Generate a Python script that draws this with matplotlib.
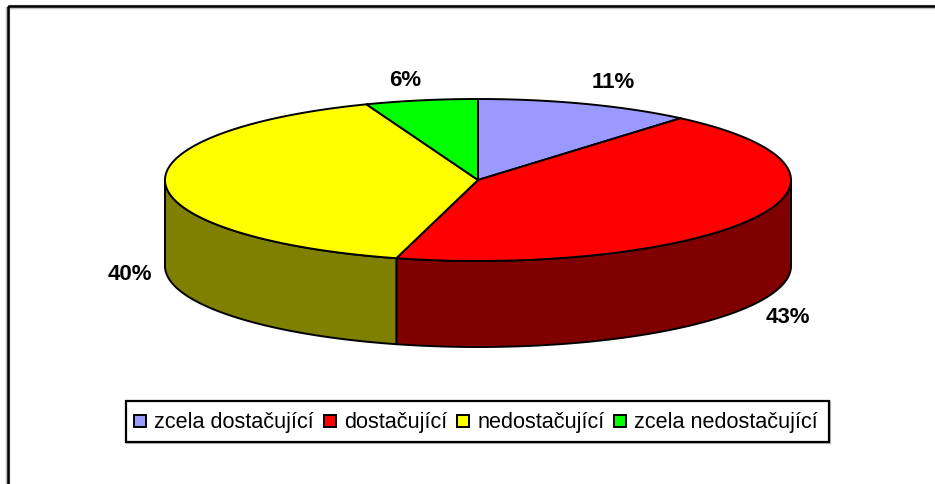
import numpy as np
import matplotlib
matplotlib.use("Agg")
import matplotlib.pyplot as plt
from matplotlib.patches import Polygon, Rectangle

categories = ["zcela dostačující", "dostačující", "nedostačující", "zcela nedostačující"]
values = [11.2, 43.0, 40.0, 5.8]
labels = ["11%", "43%", "40%", "6%"]
top_colors = ["#9999FF", "#FF0000", "#FFFF00", "#00FF00"]
side_colors = ["#4C4C80", "#800000", "#808000", "#008000"]

W, H = 935, 485
CX, CY, RX, RY, DEPTH = 478, 181, 313, 81, 86

plt.rcParams["font.family"] = ["Liberation Sans", "DejaVu Sans"]
fig = plt.figure(figsize=(W / 100, H / 100), dpi=100)
ax = fig.add_axes([0, 0, 1, 1])
ax.set_xlim(0, W)
ax.set_ylim(H, 0)
ax.axis("off")

# chart frame: only the top and left edges fall inside the picture
ax.add_patch(Rectangle((7.5, 7.5), 1000, 1000, fill=False, ec="#C0C0C0", lw=3.2, zorder=1))
ax.add_patch(Rectangle((8, 7), 1000, 1000, fill=False, ec="black", lw=1.8, zorder=1))


def rim(a0, a1, n=200):
    t = np.radians(np.linspace(a0, a1, n))
    return np.column_stack([CX + RX * np.sin(t), CY - RY * np.cos(t)])


fr = np.array(values, float) / sum(values)
edges = np.concatenate([[0], np.cumsum(fr) * 360])

# side walls: only the front half of the rim (90..270 degrees clockwise from top)
for i in range(len(values)):
    a0, a1 = max(edges[i], 90), min(edges[i + 1], 270)
    if a1 > a0:
        r = rim(a0, a1)
        low = r[::-1] + [0, DEPTH]
        ax.add_patch(Polygon(np.vstack([r, low]), closed=True, fc=side_colors[i],
                             ec="black", lw=1.4, joinstyle="round", zorder=2))

# top faces
for i in range(len(values)):
    r = rim(edges[i], edges[i + 1])
    ax.add_patch(Polygon(np.vstack([[CX, CY], r]), closed=True, fc=top_colors[i],
                         ec="black", lw=1.4, joinstyle="round", zorder=3))

# percentage labels
label_pos = [(613, 82), (788, 318), (130, 275), (405.5, 80)]
for s, (x, y) in zip(labels, label_pos):
    ax.text(x, y, s, fontsize=16, fontweight="bold", ha="center", va="center", zorder=5)

# legend
ax.add_patch(Rectangle((125.5, 401.5), 703.5, 41, fc="white", ec="#C0C0C0", lw=1.6, zorder=4,
                       transform=ax.transData + matplotlib.transforms.ScaledTranslation(1 / 100, -1 / 100, fig.dpi_scale_trans)))
ax.add_patch(Rectangle((125.5, 401.5), 703.5, 41, fc="white", ec="black", lw=1.6, zorder=4))
swatch_x = [134, 324, 457, 614]
text_x = [154, 344, 478, 634]
for i, c in enumerate(categories):
    ax.add_patch(Rectangle((swatch_x[i], 415.5), 12, 12, fc=top_colors[i], ec="black", lw=1.4, zorder=5))
    ax.text(text_x[i], 423, c, fontsize=15.6, ha="left", va="center", color="black", zorder=5)

fig.savefig("out.png", dpi=100)
